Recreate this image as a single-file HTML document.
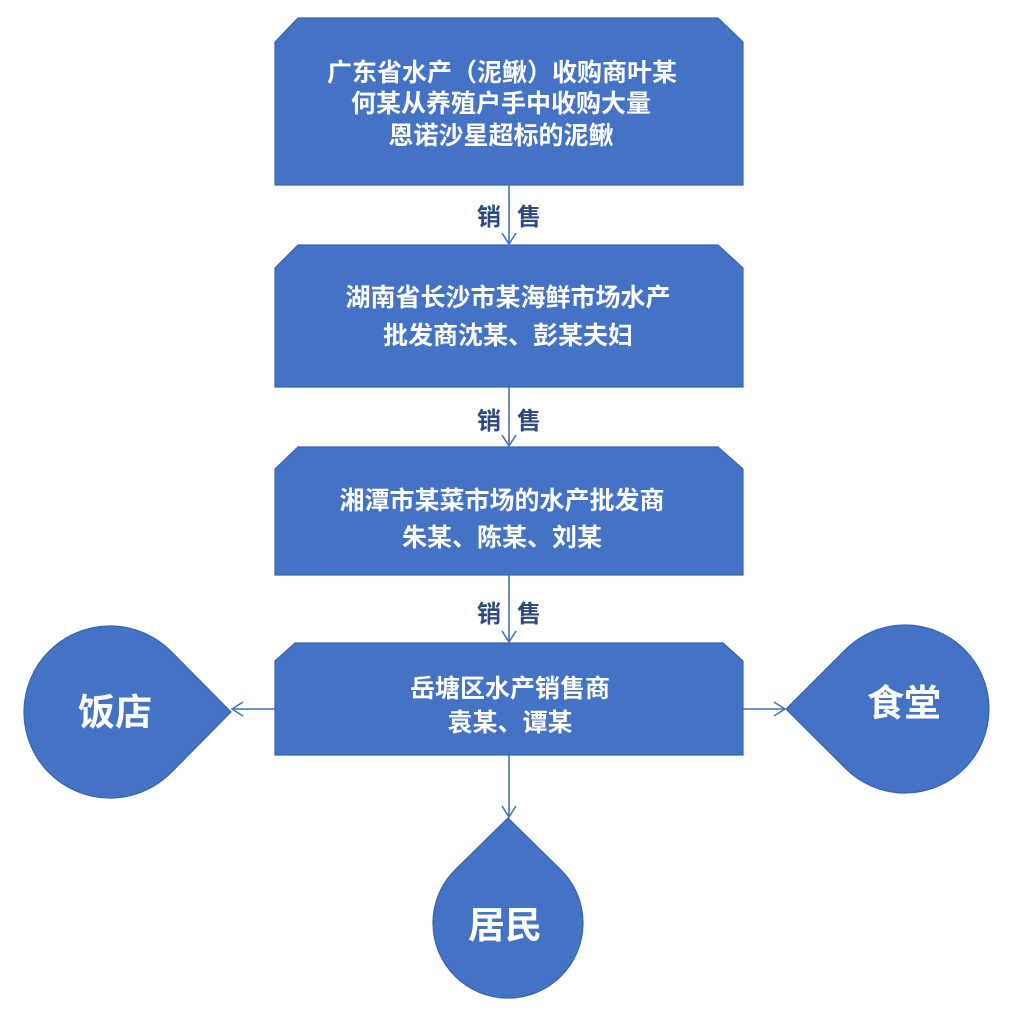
<!DOCTYPE html>
<html>
<head>
<meta charset="utf-8">
<style>
  html,body{margin:0;padding:0;background:#ffffff;}
  svg{display:block;}
  text{font-family:"Liberation Sans","Noto Sans CJK SC",sans-serif;font-weight:bold;}
  .w{fill:#ffffff;text-anchor:middle;}
  .lbl{fill:#2F4B7E;text-anchor:middle;font-size:24px;}
</style>
</head>
<body>
<svg width="1030" height="1023" viewBox="0 0 1030 1023" xmlns="http://www.w3.org/2000/svg">
  <g fill="#4472C4" stroke="#3763B0" stroke-width="1.2">
    <!-- Box 1 -->
    <polygon points="275,42 298,18 718,18 743,42 743,185 275,185"/>
    <!-- Box 2 -->
    <polygon points="275,268 298,245 718,245 743,268 743,387 275,387"/>
    <!-- Box 3 -->
    <polygon points="275,469 298,447 718,447 743,469 743,575 275,575"/>
    <!-- Box 4 -->
    <polygon points="275,661 295,643 723,643 743,661 743,755 275,755"/>
    <!-- Teardrop 饭店 -->
    <path d="M231,712 L170.8,772.8 A86,86 0 1 1 170.8,651.2 Z"/>
    <!-- Teardrop 食堂 -->
    <path d="M786,709 L845.6,649.6 A84,84 0 1 1 845.6,768.4 Z"/>
    <!-- Teardrop 居民 -->
    <path d="M508,818 L561,870 A75,75 0 1 1 455,870 Z"/>
  </g>

  <!-- connectors -->
  <g stroke="#4472C4" stroke-width="1.6" fill="none">
    <line x1="509" y1="185" x2="509" y2="244"/>
    <polyline points="502,233 509,244 516,233"/>
    <line x1="509" y1="387" x2="509" y2="446"/>
    <polyline points="502,435 509,446 516,435"/>
    <line x1="509" y1="575" x2="509" y2="642"/>
    <polyline points="502,631 509,642 516,631"/>
    <line x1="275" y1="709" x2="232" y2="709"/>
    <polyline points="243,702 232,709 243,716"/>
    <line x1="743" y1="709" x2="785" y2="709"/>
    <polyline points="774,702 785,709 774,716"/>
    <line x1="509" y1="755" x2="509" y2="817"/>
    <polyline points="502,806 509,817 516,806"/>
  </g>

  <!-- connector labels -->
  <text class="lbl" x="489" y="225">销</text>
  <text class="lbl" x="529" y="225">售</text>
  <text class="lbl" x="489" y="429">销</text>
  <text class="lbl" x="529" y="429">售</text>
  <text class="lbl" x="489" y="622">销</text>
  <text class="lbl" x="529" y="622">售</text>

  <!-- box texts -->
  <g class="w" font-size="25">
    <text class="w" x="502" y="81" font-size="25">广东省水产（泥鳅）收购商叶某</text>
    <text class="w" x="501" y="112" font-size="25">何某从养殖户手中收购大量</text>
    <text class="w" x="501" y="144" font-size="25">恩诺沙星超标的泥鳅</text>

    <text class="w" x="508" y="306" font-size="25">湖南省长沙市某海鲜市场水产</text>
    <text class="w" x="508" y="344" font-size="25">批发商沈某、彭某夫妇</text>

    <text class="w" x="502" y="509" font-size="25">湘潭市某菜市场的水产批发商</text>
    <text class="w" x="502" y="546" font-size="25">朱某、陈某、刘某</text>

    <text class="w" x="510" y="697" font-size="25">岳塘区水产销售商</text>
    <text class="w" x="510" y="731" font-size="25">袁某、谭某</text>
  </g>

  <!-- teardrop texts -->
  <text class="w" x="115" y="725" font-size="37">饭店</text>
  <text class="w" x="904" y="716" font-size="37">食堂</text>
  <text class="w" x="505" y="938" font-size="37">居民</text>
</svg>
</body>
</html>
